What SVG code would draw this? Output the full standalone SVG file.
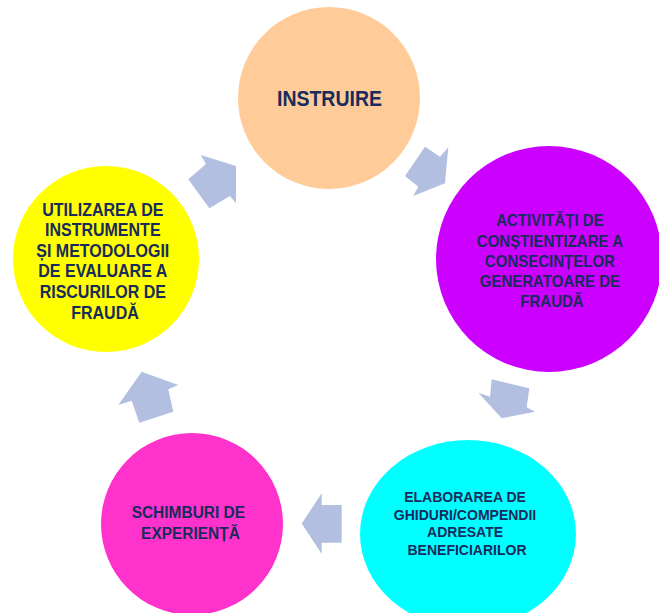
<svg xmlns="http://www.w3.org/2000/svg" width="659" height="613" viewBox="0 0 659 613">
<style>
.t{font-family:"Liberation Sans",Arial,sans-serif;font-weight:bold;fill:#172B5C;text-anchor:middle}
.arr{fill:#B3BFE0;stroke:none}
</style>
<rect width="659" height="613" fill="#FFFFFF"/>
<g id="connectors">
<polygon class="arr" points="200.7,155 206,164 188.3,179.3 209.3,208.3 230,196 236,203.3 236,166"/>
<polygon class="arr" points="425,146.7 440,156.7 448.3,147.3 445,183.3 413.3,196 418.3,186.7 405,176"/>
<polygon class="arr" points="491.7,379.3 529.3,388.3 526.7,407.3 535,411.7 501.7,418.3 478.3,392.7 490,396.7"/>
<polygon class="arr" points="301.7,523.5 321.7,493.3 321.7,505 341.7,505 341.7,542.7 321.7,542.7 321.7,554"/>
<polygon class="arr" points="141.7,371.7 178.3,385 168.3,389.3 173.3,411.7 139.3,422.7 131.7,400.7 118.3,405"/>
</g>
<g id="node-instruire">
<circle cx="329" cy="98" r="91" fill="#FFCC99"/>
<text class="t" x="329.5" y="106" font-size="21.3" transform="matrix(0.915 0 0 1 28.0 0)">INSTRUIRE</text>
</g>
<g id="node-activitati">
<circle cx="549" cy="259" r="113" fill="#CC00FF"/>
<text class="t" font-size="16.5" transform="matrix(0.91 0 0 1 49.68 0)">
<tspan x="552" y="226">ACTIVITĂȚI DE</tspan>
<tspan x="552" y="247">CONȘTIENTIZARE A</tspan>
<tspan x="552" y="267">CONSECINȚELOR</tspan>
<tspan x="552" y="287">GENERATOARE DE</tspan>
<tspan x="552" y="307">FRAUDĂ</tspan>
</text>
</g>
<g id="node-elaborarea">
<ellipse cx="468" cy="534" rx="108" ry="94" fill="#00FFFF"/>
<text class="t" font-size="15.4" transform="matrix(0.91 0 0 1 42.03 0)">
<tspan x="467" y="502">ELABORAREA DE</tspan>
<tspan x="467" y="520">GHIDURI/COMPENDII</tspan>
<tspan x="467" y="537.5">ADRESATE</tspan>
<tspan x="467" y="555">BENEFICIARILOR</tspan>
</text>
</g>
<g id="node-schimburi">
<circle cx="192" cy="524" r="91" fill="#FF33CC"/>
<text class="t" font-size="17" transform="matrix(0.91 0 0 1 17.145 0)">
<tspan x="190.5" y="518.5">SCHIMBURI DE</tspan>
<tspan x="190.5" y="539.5">EXPERIENȚĂ</tspan>
</text>
</g>
<g id="node-utilizarea">
<circle cx="106" cy="259" r="93" fill="#FFFF00"/>
<text class="t" font-size="17.6" transform="matrix(0.91 0 0 1 9.45 0)">
<tspan x="105" y="216">UTILIZAREA DE</tspan>
<tspan x="105" y="236">INSTRUMENTE</tspan>
<tspan x="105" y="257">ȘI METODOLOGII</tspan>
<tspan x="105" y="277.5">DE EVALUARE A</tspan>
<tspan x="105" y="298.5">RISCURILOR DE</tspan>
<tspan x="105" y="319">FRAUDĂ</tspan>
</text>
</g>
</svg>
